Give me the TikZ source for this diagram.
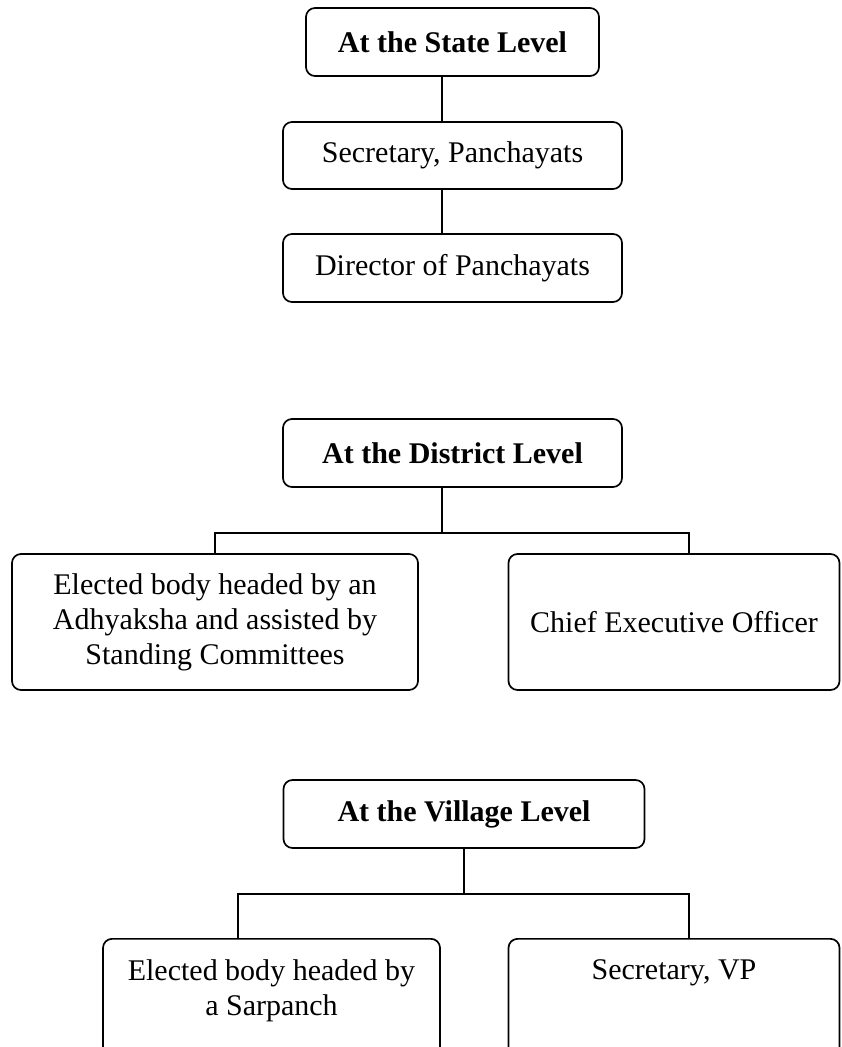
\documentclass[tikz,border=0pt]{standalone}
\usepackage{fontspec}
\setmainfont{Liberation Serif}

\begin{document}
\begin{tikzpicture}[x=0.5pt,y=-0.5pt,
        box/.style={draw,line width=0.85pt,rounded corners=4.5pt,align=center,
            inner sep=0pt,font=\fontsize{15}{17.5}\selectfont},
        head/.style={box,font=\fontsize{15}{17.5}\selectfont\bfseries},
        topbox/.style={box,anchor=north,inner xsep=0pt,inner ysep=10.5pt,minimum height=68pt},
        link/.style={line width=0.85pt}]

        \useasboundingbox (0,0) rectangle (841,1047);

        % State level
        \node[head,minimum width=146.5pt,minimum height=34pt] (state) at (452.5,42) {At the State Level};
        \node[box,minimum width=169.5pt,minimum height=33.5pt] (sec) at (452.5,155.5) {Secretary, Panchayats};
        \node[box,minimum width=169.5pt,minimum height=34pt] (dir) at (452.5,268) {Director of Panchayats};

        \draw[link] ([xshift=-5.25pt]state.south) -- ([xshift=-5.25pt]sec.north);
        \draw[link] ([xshift=-5.25pt]sec.south) -- ([xshift=-5.25pt]dir.north);

        % District level
        \node[head,minimum width=169.5pt,minimum height=34pt] (district) at (452.5,453) {At the District Level};
        \node[box,minimum width=203pt,minimum height=68pt] (elected) at (215,622)
            {Elected body headed by an\\Adhyaksha and assisted by\\Standing Committees};
        \node[box,minimum width=165.5pt,minimum height=68pt] (ceo) at (674,622) {Chief Executive Officer};

        \draw[link] ([xshift=-5.25pt]district.south) -- ++(0,45) coordinate (dj);
        \draw[link] (elected.north) |- (dj) -| ([xshift=7.5pt]ceo.north);

        % Village level
        \node[head,minimum width=180.5pt,minimum height=34pt] (village) at (464,814) {At the Village Level};
        \node[topbox,minimum width=168.5pt] (sarpanch) at (271.5,938)
            {\parbox[t][47pt][t]{160pt}{\centering Elected body headed by\\a Sarpanch}};
        \node[topbox,minimum width=165.5pt] (secvp) at (674,938)
            {\parbox[t][47pt][t]{160pt}{\centering Secretary, VP}};

        \draw[link] (village.south) -- ++(0,45) coordinate (vj);
        \draw[link] ([xshift=-16.75pt]sarpanch.north) |- (vj) -| ([xshift=7.5pt]secvp.north);

\end{tikzpicture}
\end{document}
